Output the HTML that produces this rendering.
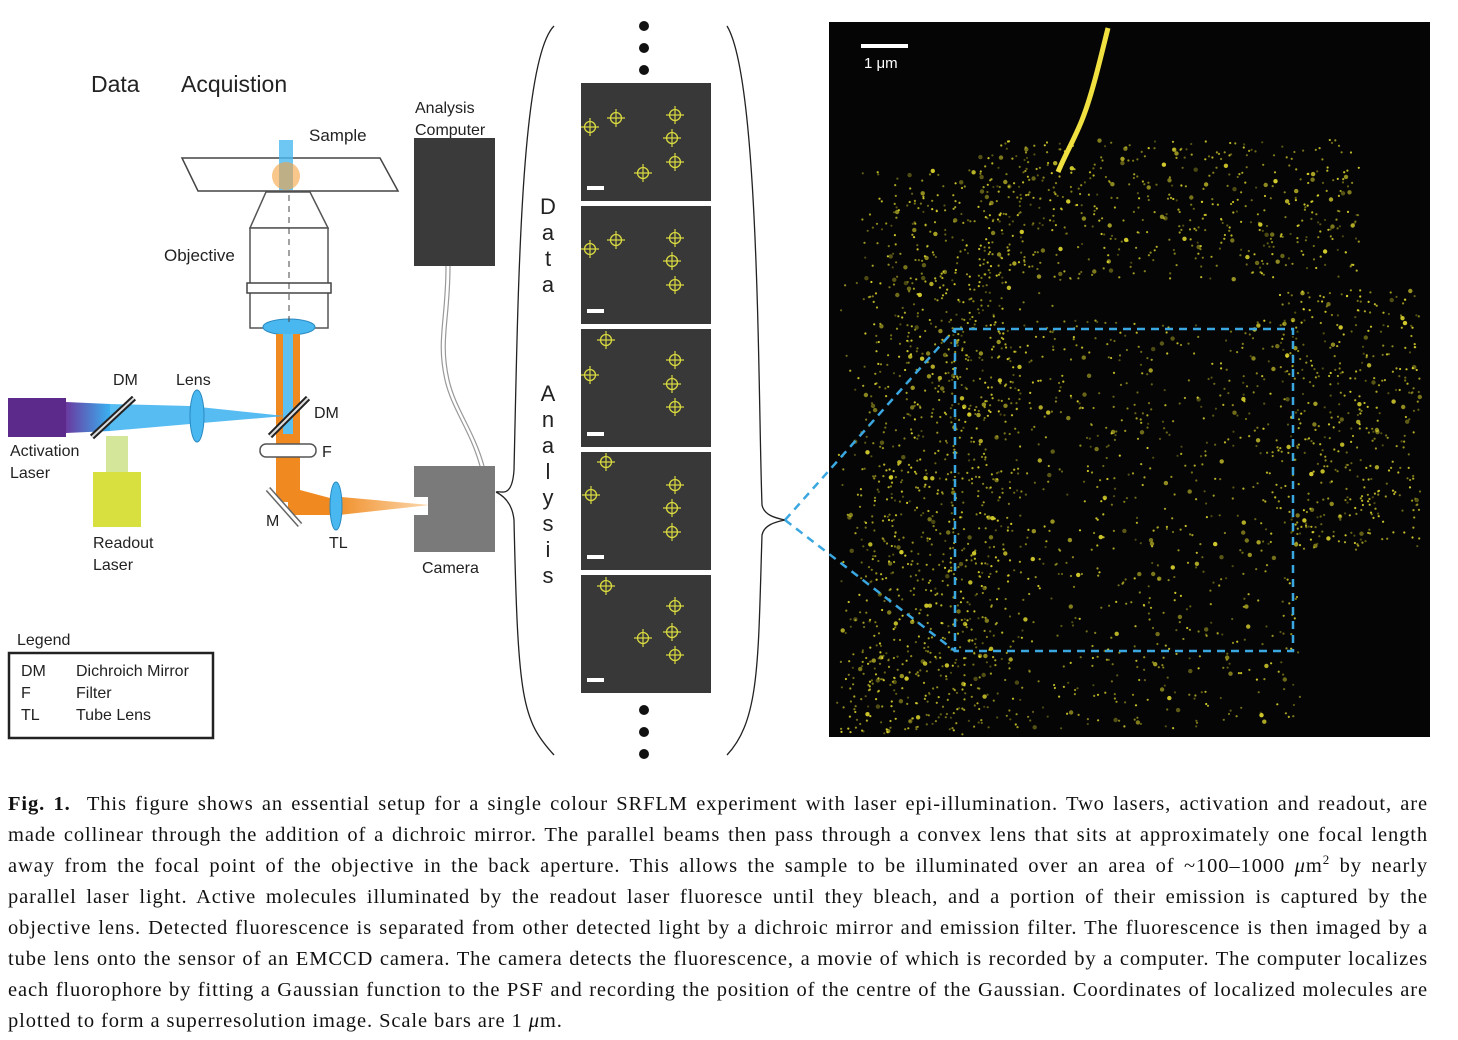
<!DOCTYPE html>
<html><head><meta charset="utf-8">
<style>
body{margin:0;width:1458px;height:1040px;background:#fff;overflow:hidden;position:relative;font-family:"Liberation Sans",sans-serif}
#cap{position:absolute;left:8px;top:789px;width:1420px;font-family:"Liberation Serif",serif;font-size:20.5px;letter-spacing:0.9px;line-height:31px;color:#111}
#cap div{text-align:justify;text-align-last:justify;white-space:nowrap;height:31px}
#cap div.last{text-align-last:left}
</style></head><body>
<svg width="1458" height="780" style="position:absolute;left:0;top:0" font-family="Liberation Sans, DejaVu Sans, sans-serif">
<defs>
<linearGradient id="bl" x1="0" x2="1"><stop offset="0" stop-color="#6a3aa0"/><stop offset="1" stop-color="#3ab0f0"/></linearGradient>
<linearGradient id="or" x1="0" x2="1"><stop offset="0" stop-color="#f08a20"/><stop offset="1" stop-color="#fbd9b0"/></linearGradient>
</defs>
<text x="91" y="92" font-size="23" fill="#222">Data</text>
<text x="181" y="92" font-size="23" fill="#222">Acquistion</text>
<text x="309" y="141" font-size="17" fill="#222">Sample</text>
<polygon points="182,158 380,158 398,191 198,191" fill="#fff" stroke="#444" stroke-width="1.5"/>
<rect x="279" y="140" width="14" height="50" fill="#4ab8f0" opacity="0.8"/>
<circle cx="286" cy="176" r="14" fill="#f5a040" opacity="0.6"/>
<polygon points="266,192 310,192 328,228 250,228" fill="#fff" stroke="#555" stroke-width="1.5"/>
<rect x="250" y="228" width="78" height="100" fill="#fff" stroke="#555" stroke-width="1.5"/>
<rect x="247" y="283" width="84" height="10" fill="#fff" stroke="#444" stroke-width="1.5"/>
<ellipse cx="289" cy="327" rx="26" ry="8" fill="#4ab8f0" stroke="#2a8ac0"/>
<line x1="289" y1="195" x2="289" y2="325" stroke="#444" stroke-dasharray="6,5"/>
<text x="164" y="261" font-size="17" fill="#222">Objective</text>
<rect x="276" y="334" width="24" height="168" fill="#f08a20"/>
<rect x="283" y="334" width="10" height="100" fill="#5cc0f0"/>
<polygon points="288,490 300,490 330,498 330,515 288,515" fill="#f08a20"/>
<polygon points="330,496 430,505 330,516" fill="url(#or)"/>
<ellipse cx="336" cy="506" rx="6" ry="24" fill="#4ab8f0" stroke="#2a8ac0"/>
<text x="329" y="548" font-size="16" fill="#222">TL</text>
<line x1="268" y1="489" x2="300" y2="525" stroke="#666" stroke-width="6"/>
<line x1="268" y1="489" x2="300" y2="525" stroke="#fff" stroke-width="3"/>
<text x="266" y="526" font-size="16" fill="#222">M</text>
<rect x="260" y="444" width="56" height="13" rx="6" fill="#fff" stroke="#555" stroke-width="1.5"/>
<text x="322" y="457" font-size="16" fill="#222">F</text>
<rect x="8" y="398" width="58" height="39" fill="#5b2a8a"/>
<polygon points="66,402 110,404 110,431 66,433" fill="url(#bl)"/>
<polygon points="110,404 190,406 285,416 190,424 110,431" fill="#3ab0f0" opacity="0.85"/>
<ellipse cx="197" cy="416" rx="7" ry="26" fill="#4ab8f0" stroke="#2a8ac0"/>
<line x1="92" y1="437" x2="134" y2="398" stroke="#222" stroke-width="6"/>
<line x1="92" y1="437" x2="134" y2="398" stroke="#ddd" stroke-width="2"/>
<line x1="270" y1="436" x2="308" y2="398" stroke="#222" stroke-width="6"/>
<line x1="270" y1="436" x2="308" y2="398" stroke="#ddd" stroke-width="2"/>
<rect x="106" y="436" width="22" height="36" fill="#c8e080" opacity="0.8"/>
<rect x="93" y="472" width="48" height="55" fill="#d8e040"/>
<text x="113" y="385" font-size="16" fill="#222">DM</text>
<text x="176" y="385" font-size="16" fill="#222">Lens</text>
<text x="314" y="418" font-size="16" fill="#222">DM</text>
<text x="10" y="456" font-size="16" fill="#222">Activation</text>
<text x="10" y="478" font-size="16" fill="#222">Laser</text>
<text x="93" y="548" font-size="16" fill="#222">Readout</text>
<text x="93" y="570" font-size="16" fill="#222">Laser</text>
<text x="415" y="113" font-size="16" fill="#222">Analysis</text>
<text x="415" y="135" font-size="16" fill="#222">Computer</text>
<rect x="414" y="138" width="81" height="128" fill="#3a3a3a"/>
<path d="M446,266 C446,320 436,340 445,380 C452,410 470,430 480,466 M450,266 C450,320 440,340 449,380 C456,410 474,430 484,466" fill="none" stroke="#999" stroke-width="1.2"/>
<path d="M414,466 H495 V552 H414 V515 H428 V497 H414 Z" fill="#7a7a7a"/>
<text x="422" y="573" font-size="16" fill="#222">Camera</text>
<text x="17" y="645" font-size="16" fill="#222">Legend</text>
<rect x="9" y="653" width="204" height="85" fill="none" stroke="#222" stroke-width="2.5"/>
<g font-size="16" fill="#222">
<text x="21" y="676">DM</text><text x="76" y="676">Dichroich Mirror</text>
<text x="21" y="698">F</text><text x="76" y="698">Filter</text>
<text x="21" y="720">TL</text><text x="76" y="720">Tube Lens</text>
</g>
<path d="M554,26 C520,60 518,300 514,470 C512,500 500,490 496,492 M496,492 C500,494 512,500 514,520 C518,700 522,720 554,755" fill="none" stroke="#222" stroke-width="1.3"/>
<path d="M727,26 C760,80 758,400 762,505 C764,515 775,518 785,520 C775,522 764,525 762,535 C758,660 760,720 727,755" fill="none" stroke="#222" stroke-width="1.3"/>
<g fill="#111"><circle cx="644" cy="26" r="5"/><circle cx="644" cy="48" r="5"/><circle cx="644" cy="70" r="5"/><circle cx="644" cy="710" r="5"/><circle cx="644" cy="732" r="5"/><circle cx="644" cy="754" r="5"/></g>
<g font-size="22" fill="#222" text-anchor="middle">
<text x="548" y="214">D</text><text x="548" y="240">a</text><text x="548" y="266">t</text><text x="548" y="292">a</text>
<text x="548" y="401">A</text><text x="548" y="427">n</text><text x="548" y="453">a</text><text x="548" y="479">l</text><text x="548" y="505">y</text><text x="548" y="531">s</text><text x="548" y="557">i</text><text x="548" y="583">s</text>
</g>
<g id="panels"></g>
<rect x="829" y="22" width="601" height="715" fill="#050505"/>
<g id="dots"></g>
<line x1="861" y1="46" x2="908" y2="46" stroke="#fff" stroke-width="4"/>
<text x="864" y="68" font-size="15" fill="#fff">1 μm</text>
<g stroke="#3aa7e0" stroke-width="2.5" stroke-dasharray="8,6" fill="none">
<rect x="955" y="329" width="338" height="322"/>
<line x1="785" y1="520" x2="955" y2="329"/><line x1="785" y1="520" x2="955" y2="651"/>
</g>
</svg>
<div id="cap">
<div><b>Fig. 1.</b>&nbsp; This figure shows an essential setup for a single colour SRFLM experiment with laser epi-illumination. Two lasers, activation and readout, are</div>
<div>made collinear through the addition of a dichroic mirror. The parallel beams then pass through a convex lens that sits at approximately one focal length</div>
<div>away from the focal point of the objective in the back aperture. This allows the sample to be illuminated over an area of ~100–1000 <i>μ</i>m<sup style="font-size:13px;line-height:0">2</sup> by nearly</div>
<div>parallel laser light. Active molecules illuminated by the readout laser fluoresce until they bleach, and a portion of their emission is captured by the</div>
<div>objective lens. Detected fluorescence is separated from other detected light by a dichroic mirror and emission filter. The fluorescence is then imaged by a</div>
<div>tube lens onto the sensor of an EMCCD camera. The camera detects the fluorescence, a movie of which is recorded by a computer. The computer localizes</div>
<div>each fluorophore by fitting a Gaussian function to the PSF and recording the position of the centre of the Gaussian. Coordinates of localized molecules are</div>
<div class="last">plotted to form a superresolution image. Scale bars are 1 <i>μ</i>m.</div>
</div>
<script>
const NS="http://www.w3.org/2000/svg";
const panelTops=[83,206,329,452,575];
const marks=[[[590,127],[616,118],[675,115],[672,138],[675,162],[643,173]],[[590,249],[616,240],[675,238],[672,261],[675,285]],[[606,340],[590,375],[675,360],[672,384],[675,407]],[[606,462],[591,495],[675,485],[672,508],[672,532]],[[606,586],[675,606],[643,638],[672,632],[675,655]]];
const pg=document.getElementById('panels');
panelTops.forEach((t,i)=>{
 const r=document.createElementNS(NS,'rect');
 
 
 r.setAttribute('x',581);r.setAttribute('y',t);r.setAttribute('width',130);r.setAttribute('height',118);r.setAttribute('fill','#383838');pg.appendChild(r);
 const s=document.createElementNS(NS,'rect');s.setAttribute('x',587);s.setAttribute('y',t+103);s.setAttribute('width',17);s.setAttribute('height',4);s.setAttribute('fill','#fff');pg.appendChild(s);
 marks[i].forEach(([x,y])=>{
  const c=document.createElementNS(NS,'circle');c.setAttribute('cx',x);c.setAttribute('cy',y);c.setAttribute('r',5.5);c.setAttribute('fill','none');c.setAttribute('stroke','#d8d840');c.setAttribute('stroke-width',1.3);pg.appendChild(c);
  const p=document.createElementNS(NS,'path');p.setAttribute('d',`M${x-9},${y}H${x+9}M${x},${y-9}V${y+9}`);p.setAttribute('stroke','#d8d840');p.setAttribute('stroke-width',1.2);pg.appendChild(p);
 });
});
let seed=7;function rnd(){seed=(seed*16807)%2147483647;return seed/2147483647;}
const dg=document.getElementById('dots');let h='';
for(let i=0;i<3000;i++){
 let x,y;const t=rnd();
 if(t<0.4){y=170+rnd()*565;x=835+(735-y)*0.18*rnd()+rnd()*150;}
 else if(t<0.58){x=980+rnd()*380;y=140+rnd()*140;}
 else if(t<0.72){x=1280+rnd()*140;y=290+rnd()*260;}
 else {x=940+rnd()*360;y=320+rnd()*410;}
 if(x>1428||y>735||y<24||x<831)continue;
 if(x>1320&&y>560)continue;
 const r=rnd()<0.1?2.2:1.1;
 h+=`<circle cx="${x.toFixed(1)}" cy="${y.toFixed(1)}" r="${r}" fill="#e8e030" opacity="${(0.3+rnd()*0.6).toFixed(2)}"/>`;
}
h+='<path d="M1108,28 C1100,60 1092,95 1082,120 C1074,140 1065,155 1058,172" stroke="#f0e040" stroke-width="5" fill="none"/>';
dg.innerHTML=h;
</script>
</body></html>
